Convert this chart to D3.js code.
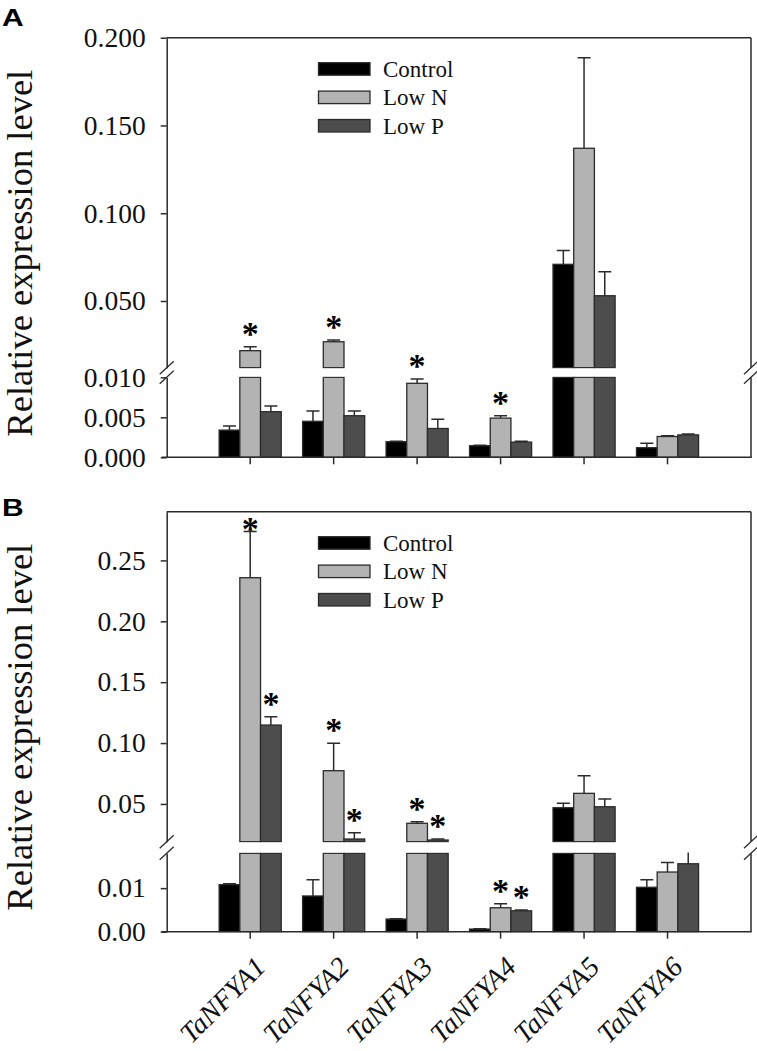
<!DOCTYPE html>
<html><head><meta charset="utf-8">
<script src="https://cdn.jsdelivr.net/npm/d3@7"></script>
<style>
body{margin:0;background:#fff}
.serif{font-family:"Liberation Serif","Times New Roman",Tinos,"DejaVu Serif",serif}
.sans{font-family:"Liberation Sans",Arial,Helvetica,sans-serif}
</style>
</head><body>
<svg id="c" width="757" height="1051" xmlns="http://www.w3.org/2000/svg"></svg>
<script>
// ---------------- DATA ----------------
const categories = ["TaNFYA1","TaNFYA2","TaNFYA3","TaNFYA4","TaNFYA5","TaNFYA6"];
const seriesNames = ["Control","Low N","Low P"];
const seriesColors = ["#000000","#b3b3b3","#4d4d4d"];

// Panel A (mean, standard error)
const controlA   = [0.0034, 0.0045, 0.00195, 0.00145, 0.0709, 0.0012];
const controlAse = [0.0005, 0.0013, 0.00005, 0.00005, 0.0078, 0.00055];
const lowNA      = [0.0217, 0.0268, 0.00925, 0.0049, 0.137, 0.0026];
const lowNAse    = [0.0023, 0.0010, 0.00055, 0.0003, 0.0516, 0.0001];
const lowPA      = [0.0057, 0.0052, 0.0036, 0.0019, 0.053, 0.0028];
const lowPAse    = [0.0007, 0.0006, 0.00115, 0.0001, 0.0137, 0.0001];
const sigA = [[0,0,0,0,0,0],[1,1,1,1,0,0],[0,0,0,0,0,0]];

// Panel B
const controlB   = [0.0108, 0.0082, 0.0029, 0.0006, 0.0469, 0.0102];
const controlBse = [0.0002, 0.0037, 0.0001, 0.00005, 0.0036, 0.0017];
const lowNB      = [0.2358, 0.0773, 0.0341, 0.0055, 0.0587, 0.0137];
const lowNBse    = [0.0380, 0.0225, 0.0013, 0.0009, 0.0145, 0.0022];
const lowPB      = [0.1148, 0.0212, 0.0204, 0.0048, 0.0477, 0.0156];
const lowPBse    = [0.0069, 0.0052, 0.0008, 0.0002, 0.0063, 0.0040];
const sigB = [[0,0,0,0,0,0],[1,1,1,1,0,0],[1,1,1,1,0,0]];

// axis ticks and broken-axis domains
const ticksALower = [0, 0.005, 0.010];
const ticksAUpper = [0.05, 0.10, 0.15, 0.20];
const ticksBLower = [0, 0.01];
const ticksBUpper = [0.05, 0.10, 0.15, 0.20, 0.25];
const domainALower = [0, 0.010], domainAUpper = [0.012, 0.200];
const domainBLower = [0, 0.018], domainBUpper = [0.019, 0.290];
const yTitle = "Relative expression level";

// ---------------- LAYOUT ----------------
const svg = d3.select("#c");
const LEFT = 166.7, RIGHT = 751;
const LINE = "#2b2b2b";

const x = d3.scaleBand().domain(categories).range([LEFT + 41.75, RIGHT - 41.75]).padding(0);
const xs = d3.scaleBand().domain(seriesNames).range([-31.05, 31.05]).padding(0);

function drawPanel(cfg, id) {
  const g = svg.append("g");
  const yL = d3.scaleLinear().domain(cfg.lowerDomain).range([cfg.bottom, cfg.lowerTopY]);
  const yU = d3.scaleLinear().domain(cfg.upperDomain).range([cfg.upperBottomY, cfg.top]);

  const defs = svg.append("defs");
  defs.append("clipPath").attr("id", "clL" + id).append("rect")
    .attr("x", LEFT).attr("y", cfg.lowerTopY - 0.8).attr("width", RIGHT - LEFT).attr("height", cfg.bottom - cfg.lowerTopY + 1.6);
  defs.append("clipPath").attr("id", "clU" + id).append("rect")
    .attr("x", LEFT).attr("y", cfg.top).attr("width", RIGHT - LEFT).attr("height", cfg.upperBottomY - cfg.top + 0.8);

  const gL = g.append("g").attr("clip-path", `url(#clL${id})`);
  const gU = g.append("g").attr("clip-path", `url(#clU${id})`);
  const lowMax = cfg.lowerDomain[1], upMin = cfg.upperDomain[0];

  const bw = xs.bandwidth();
  cfg.means.forEach((arr, s) => {
    arr.forEach((v, i) => {
      const se = cfg.ses[s][i];
      const bx = x(categories[i]) + x.bandwidth() / 2 + xs(seriesNames[s]);
      const cx = bx + bw / 2;
      gL.append("rect").attr("x", bx).attr("width", bw)
        .attr("y", yL(Math.min(v, lowMax))).attr("height", yL(0) - yL(Math.min(v, lowMax)))
        .attr("fill", seriesColors[s]).attr("stroke", LINE).attr("stroke-width", 1.3);
      let ys = yL, grp = gL;
      if (v > upMin) {
        gU.append("rect").attr("x", bx).attr("width", bw)
          .attr("y", yU(v)).attr("height", yU(upMin) - yU(v))
          .attr("fill", seriesColors[s]).attr("stroke", LINE).attr("stroke-width", 1.3);
        ys = yU; grp = gU;
      }
      const yTop = ys(v + se);
      grp.append("line").attr("x1", cx).attr("x2", cx).attr("y1", ys(v)).attr("y2", yTop)
        .attr("stroke", LINE).attr("stroke-width", 1.5);
      grp.append("line").attr("x1", cx - 6.5).attr("x2", cx + 6.5).attr("y1", yTop).attr("y2", yTop)
        .attr("stroke", LINE).attr("stroke-width", 1.5);
      if (cfg.sig[s][i]) {
        const cy = Math.max(yTop - 19, cfg.top + 11);
        g.append("text").attr("class", "serif").attr("x", cx).attr("y", cy + 0.5 * 34)
          .attr("text-anchor", "middle").attr("font-weight", "bold")
          .attr("font-size", 34).attr("fill", "#000").text("*");
      }
    });
  });

  const styleAxis = a => {
    a.attr("font-family", null);
    a.select(".domain").attr("stroke", LINE).attr("stroke-width", 1.5);
    a.selectAll(".tick line").attr("stroke", LINE).attr("stroke-width", 1.5);
    a.selectAll(".tick text").attr("class", "serif").attr("font-size", 27.5).attr("fill", "#111");
  };
  g.append("g").attr("transform", `translate(${LEFT},0)`)
    .call(d3.axisLeft(yL).tickValues(cfg.lowerTicks).tickFormat(d3.format(cfg.fmt)).tickSize(6).tickSizeOuter(0).tickPadding(15))
    .call(styleAxis);
  g.append("g").attr("transform", `translate(${LEFT},0)`)
    .call(d3.axisLeft(yU).tickValues(cfg.upperTicks).tickFormat(d3.format(cfg.fmt)).tickSize(6).tickSizeOuter(0).tickPadding(15))
    .call(styleAxis);

  [[cfg.bottom, cfg.lowerTopY], [cfg.upperBottomY, cfg.top]].forEach(([a, b]) => {
    g.append("line").attr("x1", RIGHT).attr("x2", RIGHT).attr("y1", a).attr("y2", b)
      .attr("stroke", LINE).attr("stroke-width", 1.5);
  });
  g.append("line").attr("x1", LEFT).attr("x2", RIGHT).attr("y1", cfg.top).attr("y2", cfg.top)
    .attr("stroke", LINE).attr("stroke-width", 1.5);
  const xa = g.append("g").attr("transform", `translate(0,${cfg.bottom})`)
    .call(d3.axisBottom(x).tickSize(7).tickSizeOuter(0).tickFormat(cfg.showX ? (d => d) : () => ""));
  xa.attr("font-family", null);
  xa.select(".domain").remove();
  xa.selectAll(".tick line").attr("stroke", LINE).attr("stroke-width", 1.5);
  g.append("line").attr("x1", LEFT - 5).attr("x2", RIGHT + 0.75).attr("y1", cfg.bottom).attr("y2", cfg.bottom)
    .attr("stroke", LINE).attr("stroke-width", 1.5);
  if (cfg.showX) {
    xa.selectAll(".tick text")
      .attr("class", "serif").attr("font-style", "italic").attr("font-size", 28).attr("fill", "#111")
      .attr("text-anchor", "end").attr("dy", null).attr("y", 0)
      .attr("transform", "translate(17,37) rotate(-45)");
  } else {
    xa.selectAll(".tick text").remove();
  }

  [LEFT, RIGHT].forEach(bx => {
    [cfg.upperBottomY, cfg.lowerTopY].forEach(by => {
      g.append("line").attr("x1", bx - 7).attr("x2", bx + 7).attr("y1", by + 6.5).attr("y2", by - 6.5)
        .attr("stroke", LINE).attr("stroke-width", 1.3);
    });
  });

  const lg = g.append("g");
  seriesNames.forEach((n, s) => {
    const ly = cfg.top + 25 + s * 28.4;
    lg.append("rect").attr("x", 318.5).attr("y", ly).attr("width", 51.5).attr("height", 12.5)
      .attr("fill", seriesColors[s]).attr("stroke", LINE).attr("stroke-width", 1.3);
    lg.append("text").attr("class", "serif").attr("x", 383).attr("y", ly + 14)
      .attr("font-size", 23).attr("fill", "#111").text(n);
  });

  g.append("text").attr("class", "serif").attr("transform", `translate(32,${cfg.top + 215.5}) rotate(-90)`)
    .attr("text-anchor", "middle").attr("font-size", 36.5).attr("fill", "#111")
    .text(yTitle);
  g.append("text").attr("class", "sans")
    .attr("transform", `translate(2,${cfg.labelY}) scale(1.25,1)`)
    .attr("font-weight", "bold").attr("font-size", 24).attr("fill", "#000").text(cfg.label);
}

drawPanel({
  top: 37.7, bottom: 457.3, lowerTopY: 377.3, upperBottomY: 367.7,
  lowerDomain: domainALower, upperDomain: domainAUpper,
  lowerTicks: ticksALower, upperTicks: ticksAUpper, fmt: ".3f",
  means: [controlA, lowNA, lowPA], ses: [controlAse, lowNAse, lowPAse], sig: sigA,
  showX: false, label: "A", labelY: 25.5
}, "A");

drawPanel({
  top: 511.7, bottom: 931.7, lowerTopY: 853.3, upperBottomY: 841.7,
  lowerDomain: domainBLower, upperDomain: domainBUpper,
  lowerTicks: ticksBLower, upperTicks: ticksBUpper, fmt: ".2f",
  means: [controlB, lowNB, lowPB], ses: [controlBse, lowNBse, lowPBse], sig: sigB,
  showX: true, label: "B", labelY: 515.5
}, "B");
</script>
</body></html>
